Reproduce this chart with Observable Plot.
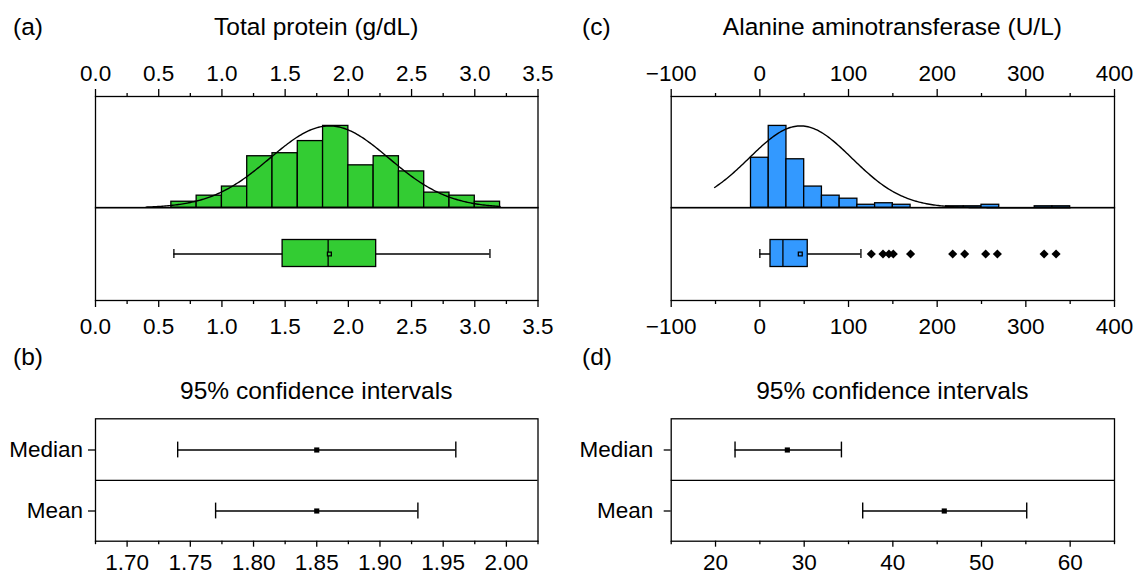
<!DOCTYPE html>
<html><head><meta charset="utf-8">
<script src="https://cdn.jsdelivr.net/npm/d3@7"></script>
<script src="https://cdn.jsdelivr.net/npm/@observablehq/plot@0.6"></script>
<style>
html,body{margin:0;padding:0;background:#fff;}
#root{position:relative;width:1141px;height:574px;overflow:hidden;font-family:"Liberation Sans",Arial,Helvetica,sans-serif;color:#000;}
.lbl{position:absolute;font-size:24.5px;line-height:24.5px;white-space:nowrap;}
.ctr{transform:translateX(-50%);}
#root svg{position:absolute;overflow:visible;}
</style></head><body><div id="root"></div>
<script>
// ---------- data ----------
// (a) Total protein histogram (bin lower edges, counts)
const proteinBinStarts = [0.6,0.8,1.0,1.2,1.4,1.6,1.8,2.0,2.2,2.4,2.6,2.8,3.0];
const proteinCounts    = [2,4,7,17,18,22,27,14,17,12,5,4,2];
const proteinBinWidth  = 0.2;
// normal fit: mean, sd, peak (counts), drawn range
const proteinFitParams = [1.85, 0.47, 27];
const proteinFitRange  = [0.4, 3.2];
// box plot: min, q1, median, mean, q3, max
const proteinBox = [0.62, 1.48, 1.84, 1.85, 2.22, 3.12];
const proteinOutliers = [];

// (c) Alanine aminotransferase histogram
const altBinStarts = [-10,10,30,50,70,90,110,130,150,170,190,210,230,250,270,290,310,330];
const altCounts    = [33,54,32,14,8,6,2,3,2,0,0,1,1,2,0,0,1,1];
const altBinWidth  = 20;
const altFitParams = [45.8, 58, 54];
const altFitRange  = [-51, 350];
const altBox = [0, 12, 26, 45.6, 54, 114];
const altOutliers = [125.7, 138.9, 145.6, 150.5, 170, 217.5, 231, 254.7, 267.9, 320.6, 334.1];

// (b),(d) 95% confidence intervals
const ciRows = ["Median", "Mean"];
const proteinCiLow  = [1.74, 1.77];
const proteinCiEst  = [1.85, 1.85];
const proteinCiHigh = [1.96, 1.93];
const altCiLow  = [22.2, 36.6];
const altCiEst  = [28.1, 45.8];
const altCiHigh = [34.2, 55.1];

// tick labels
const proteinTicks = [0,0.5,1,1.5,2,2.5,3,3.5];
const proteinMinor = [0.25,0.75,1.25,1.75,2.25,2.75,3.25];
const altTicks = [-100,0,100,200,300,400];
const altMinor = [-50,50,150,250,350];
const proteinCiTicks = [1.70,1.75,1.80,1.85,1.90,1.95,2.00];
const proteinCiMinor = [1.675,1.725,1.775,1.825,1.875,1.925,1.975,2.025];
const altCiTicks = [20,30,40,50,60];
const altCiMinor = [15,25,35,45,55,65];

// ---------- layout ----------
const FONT = '"Liberation Sans", Arial, Helvetica, sans-serif';
const FS = 22.5;
const root = document.getElementById("root");
const LEFT = {x: 0, width: 570, mL: 95, mR: 570 - 537.5};
const RIGHT = {x: 570, width: 571, mL: 670.7 - 570, mR: 571 - (1114 - 570)};

function base(width, height, m) {
  return {width, height, marginTop: m[0], marginRight: m[1], marginBottom: m[2], marginLeft: m[3],
    style: {fontFamily: FONT, fontSize: FS + "px", color: "#000", background: "transparent", overflow: "visible"}};
}
function place(svg, x, y) { svg.style.left = x + "px"; svg.style.top = y + "px"; root.appendChild(svg); }

function histPlot(P, starts, counts, bw, fitP, fitR, fill, xDomain, yMax, major, minor, fmt) {
  const bins = starts.map((s, i) => ({x1: s, x2: s + bw, n: counts[i]}));
  const [mu, sd, peak] = fitP;
  const curve = d3.range(0, 241).map(i => {
    const x = fitR[0] + (fitR[1] - fitR[0]) * i / 240;
    return {x, y: peak * Math.exp(-0.5 * ((x - mu) / sd) ** 2)};
  });
  return Plot.plot({
    ...base(P.width, 207.3, [96, P.mR, 0, P.mL]),
    x: {domain: xDomain, label: null},
    y: {domain: [0, yMax], axis: null, label: null},
    marks: [
      Plot.rectY(bins, {x1: "x1", x2: "x2", y: "n", fill, stroke: "#000", strokeWidth: 1.3}),
      Plot.line(curve, {x: "x", y: "y", stroke: "#000", strokeWidth: 1.4}),
      Plot.frame({stroke: "#000", strokeWidth: 1.3}),
      Plot.axisX(major, {anchor: "top", tickSize: 8, tickPadding: 7, tickFormat: fmt, fontSize: FS, strokeWidth: 1.3, label: null}),
      Plot.axisX(minor, {anchor: "top", tickSize: 4, tickFormat: () => "", strokeWidth: 1.3, label: null})
    ]
  });
}

function boxPlot(P, b, outliers, fill, xDomain, major, minor, fmt) {
  const s = [{k: "s", min: b[0], q1: b[1], med: b[2], mean: b[3], q3: b[4], max: b[5]}];
  return Plot.plot({
    ...base(P.width, 133, [0, P.mR, 40, P.mL]),
    x: {domain: xDomain, label: null},
    y: {domain: ["s"], axis: null, padding: 0, label: null},
    marks: [
      Plot.frame({stroke: "#000", strokeWidth: 1.3}),
      Plot.ruleY(s, {y: "k", x1: "min", x2: "max", stroke: "#000", strokeWidth: 1.3}),
      Plot.tickX(s, {x: "min", y: "k", insetTop: 42, insetBottom: 42, stroke: "#000", strokeWidth: 1.3}),
      Plot.tickX(s, {x: "max", y: "k", insetTop: 42, insetBottom: 42, stroke: "#000", strokeWidth: 1.3}),
      Plot.barX(s, {x1: "q1", x2: "q3", y: "k", insetTop: 32.5, insetBottom: 33.5, fill, stroke: "#000", strokeWidth: 1.3}),
      Plot.tickX(s, {x: "med", y: "k", insetTop: 32.5, insetBottom: 33.5, stroke: "#000", strokeWidth: 1.3}),
      Plot.dot(s, {x: "mean", y: "k", symbol: "square", r: 2.2, fill, stroke: "#000", strokeWidth: 1.3}),
      Plot.dot(outliers, {x: d => d, y: () => "s", symbol: "diamond2", r: 4.1, fill: "#000"}),
      Plot.axisX(major, {anchor: "bottom", tickSize: 7, tickPadding: 11, tickFormat: fmt, fontSize: FS, strokeWidth: 1.3, label: null}),
      Plot.axisX(minor, {anchor: "bottom", tickSize: 4, tickFormat: () => "", strokeWidth: 1.3, label: null})
    ]
  });
}

function ciPlot(P, lo, est, hi, xDomain, major, minor, fmt, yPad) {
  const ci = ciRows.map((r, i) => ({stat: r, lo: lo[i], est: est[i], hi: hi[i]}));
  const plotH = 122.4;
  const bandH = plotH / ciRows.length;
  const cap = 16;
  return Plot.plot({
    ...base(P.width, 174, [18.3, P.mR, 174 - 18.3 - plotH, P.mL]),
    x: {domain: xDomain, label: null},
    y: {domain: ciRows, padding: 0, label: null},
    marks: [
      Plot.frame({stroke: "#000", strokeWidth: 1.3}),
      Plot.ruleY(ciRows.slice(1), {y: d => d, dy: -bandH / 2, stroke: "#000", strokeWidth: 1.3}),
      Plot.ruleY(ci, {y: "stat", x1: "lo", x2: "hi", stroke: "#000", strokeWidth: 1.4}),
      Plot.tickX(ci, {x: "lo", y: "stat", insetTop: (bandH - cap) / 2, insetBottom: (bandH - cap) / 2, stroke: "#000", strokeWidth: 1.4}),
      Plot.tickX(ci, {x: "hi", y: "stat", insetTop: (bandH - cap) / 2, insetBottom: (bandH - cap) / 2, stroke: "#000", strokeWidth: 1.4}),
      Plot.dot(ci, {x: "est", y: "stat", symbol: "square", r: 2.9, fill: "#000"}),
      Plot.axisY({tickSize: 7, tickPadding: yPad, fontSize: FS, strokeWidth: 1.3, label: null}),
      Plot.axisX(major, {anchor: "bottom", tickSize: 6, tickPadding: 7, tickFormat: fmt, fontSize: FS, strokeWidth: 1.3, label: null}),
      Plot.axisX(minor, {anchor: "bottom", tickSize: 3.5, tickFormat: () => "", strokeWidth: 1.3, label: null})
    ]
  });
}

const GREEN = "#33cc33", BLUE = "#3399ff";
const f1 = d3.format(".1f"), f2 = d3.format(".2f"), fi = d3.format("d");

place(histPlot(LEFT, proteinBinStarts, proteinCounts, proteinBinWidth, proteinFitParams, proteinFitRange, GREEN, [0, 3.5], 36.7, proteinTicks, proteinMinor, f1), LEFT.x, 0);
place(boxPlot(LEFT, proteinBox, proteinOutliers, GREEN, [0, 3.5], proteinTicks, proteinMinor, f1), LEFT.x, 207.3);
place(histPlot(RIGHT, altBinStarts, altCounts, altBinWidth, altFitParams, altFitRange, BLUE, [-100, 400], 73.4, altTicks, altMinor, fi), RIGHT.x, 0);
place(boxPlot(RIGHT, altBox, altOutliers, BLUE, [-100, 400], altTicks, altMinor, fi), RIGHT.x, 207.3);
place(ciPlot(LEFT, proteinCiLow, proteinCiEst, proteinCiHigh, [1.675, 2.025], proteinCiTicks, proteinCiMinor, f2, 5.5), LEFT.x, 400);
place(ciPlot(RIGHT, altCiLow, altCiEst, altCiHigh, [15, 65], altCiTicks, altCiMinor, fi, 11), RIGHT.x, 400);

// ---------- text ----------
function label(text, x, top, centered) {
  const d = document.createElement("div");
  d.className = "lbl" + (centered ? " ctr" : "");
  d.textContent = text;
  d.style.left = x + "px"; d.style.top = top + "px";
  root.appendChild(d);
}
label("(a)", 13, 14.9);
label("Total protein (g/dL)", 316.25, 14.9, true);
label("(c)", 582, 14.9);
label("Alanine aminotransferase (U/L)", 892.4, 14.9, true);
label("(b)", 13, 344.5);
label("95% confidence intervals", 316.25, 378.5, true);
label("(d)", 582, 344.5);
label("95% confidence intervals", 892.4, 378.5, true);
</script></body></html>
